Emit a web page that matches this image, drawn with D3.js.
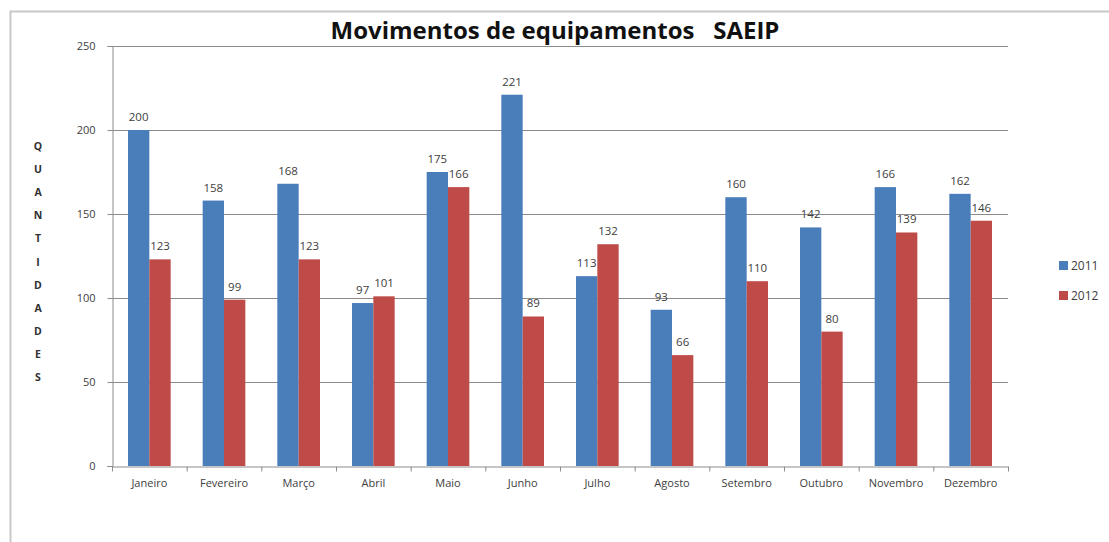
<!DOCTYPE html>
<html>
<head>
<meta charset="utf-8">
<script src="https://cdn.jsdelivr.net/npm/d3@7"></script>
<style>
  body { margin: 0; background: #fff; }
  svg { display: block; font-family: "Open Sans", "Liberation Sans", sans-serif; }
</style>
</head>
<body>
<svg id="chart" width="1109" height="542"></svg>
<script>
const months = ['Janeiro', 'Fevereiro', 'Março', 'Abril', 'Maio', 'Junho',
  'Julho', 'Agosto', 'Setembro', 'Outubro', 'Novembro', 'Dezembro'];
const years = ['2011', '2012'];
const values2011 = [200, 158, 168, 97, 175, 221, 113, 93, 160, 142, 166, 162];
const values2012 = [123, 99, 123, 101, 166, 89, 132, 66, 110, 80, 139, 146];
const yTicks = [0, 50, 100, 150, 200, 250];
const axisTitle = 'QUANTIDADES';

const colors = {'2011': '#4a7ebb', '2012': '#be4b48'};
const series = {'2011': values2011, '2012': values2012};

const svg = d3.select('#chart');
const plot = {left: 112, right: 1008, top: 46, bottom: 466};

// outer chart frame
svg.append('rect')
  .attr('x', 10.5).attr('y', 11.5)
  .attr('width', 1120).attr('height', 560)
  .attr('fill', 'none').attr('stroke', '#c8c8c8').attr('stroke-width', 2);

const x = d3.scaleBand().domain(months).range([plot.left, plot.right]);
const gap = 1.5; // excel gap width 150%
const bw = x.bandwidth() / (years.length + gap);
const xs = d3.scaleBand().domain(years)
  .range([bw * gap / 2, bw * gap / 2 + bw * years.length]);
const y = d3.scaleLinear().domain([0, 250]).range([plot.bottom, plot.top]);

// gridlines
svg.append('g')
  .selectAll('line')
  .data(yTicks.filter(d => d > 0))
  .join('line')
    .attr('x1', plot.left).attr('x2', plot.right)
    .attr('y1', d => y(d) + 0.5).attr('y2', d => y(d) + 0.5)
    .attr('stroke', '#8c8c8c')
  ;

// y axis
const yAxis = svg.append('g')
  .attr('transform', `translate(${plot.left + 0.5},0)`)
  .call(d3.axisLeft(y).tickValues(yTicks).tickSize(5).tickPadding(12));
yAxis.select('.domain').attr('stroke', '#8c8c8c');
yAxis.selectAll('.tick line').attr('stroke', '#8c8c8c');
yAxis.selectAll('.tick text')
  .attr('font-size', 11).attr('fill', '#404040')
  .attr('font-family', '"Open Sans", sans-serif');

// bars
const groups = svg.append('g')
  .selectAll('g')
  .data(months)
  .join('g')
    .attr('transform', d => `translate(${x(d)},0)`)
  ;
groups.selectAll('rect')
  .data((m, i) => years.map(yr => ({yr, v: series[yr][i]})))
  .join('rect')
    .attr('x', d => xs(d.yr))
    .attr('width', xs.bandwidth())
    .attr('y', d => y(d.v))
    .attr('height', d => y(0) - y(d.v))
    .attr('fill', d => colors[d.yr])
  ;
groups.selectAll('text')
  .data((m, i) => years.map(yr => ({yr, v: series[yr][i]})))
  .join('text')
    .attr('x', d => xs(d.yr) + xs.bandwidth() / 2)
    .attr('y', d => y(d.v) - 9)
    .attr('text-anchor', 'middle')
    .attr('font-size', 11.5)
    .attr('fill', '#404040')
    .text(d => d.v)
  ;

// x axis
const xAxis = svg.append('g')
  .attr('transform', `translate(0,${plot.bottom + 0.5})`)
  .call(d3.axisBottom(x).tickSize(0).tickPadding(13));
xAxis.select('.domain').attr('stroke', '#8c8c8c');
xAxis.selectAll('.tick text')
  .attr('font-size', 11).attr('fill', '#404040')
  .attr('font-family', '"Open Sans", sans-serif');
// tick marks between categories
xAxis.append('g')
  .selectAll('line')
  .data(months.map(m => x(m)).concat([plot.right]))
  .join('line')
    .attr('x1', d => d + 0.5).attr('x2', d => d + 0.5)
    .attr('y1', 0).attr('y2', 5)
    .attr('stroke', '#8c8c8c')
  ;

// vertical axis title, one letter per line
svg.append('g')
  .selectAll('text')
  .data(axisTitle.split(''))
  .join('text')
    .attr('x', 38)
    .attr('y', (d, i) => 150 + i * 23.1)
    .attr('text-anchor', 'middle')
    .attr('font-size', 10.5)
    .attr('font-weight', 'bold')
    .attr('fill', '#303030')
    .text(d => d)
  ;

// title
svg.append('text')
  .attr('x', 555).attr('y', 39)
  .attr('text-anchor', 'middle')
  .attr('font-size', 24)
  .attr('font-weight', 'bold')
  .attr('fill', '#111')
  .attr('xml:space', 'preserve')
  .style('white-space', 'pre')
  .text('Movimentos de equipamentos   SAEIP');

// legend
const legend = svg.append('g')
  .selectAll('g')
  .data(years)
  .join('g')
    .attr('transform', (d, i) => `translate(1059,${266 + i * 30})`)
  ;
legend.append('rect')
  .attr('x', 0).attr('y', -5)
  .attr('width', 9).attr('height', 9)
  .attr('fill', d => colors[d]);
legend.append('text')
  .attr('x', 12).attr('y', 4)
  .attr('font-size', 12)
  .attr('fill', '#404040')
  .text(d => d);
</script>
</body>
</html>
